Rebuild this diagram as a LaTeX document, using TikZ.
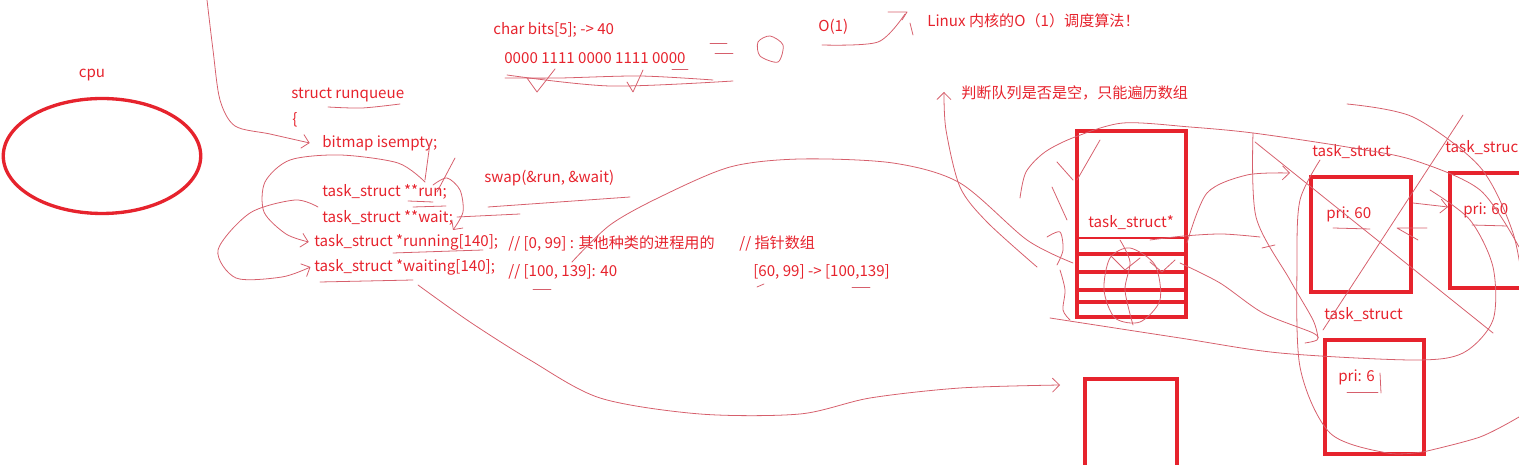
\documentclass[tikz,border=0pt]{standalone}
\usepackage{fontspec}
\setmainfont{Noto Sans CJK SC}
\usetikzlibrary{arrows.meta,shapes.geometric}
\definecolor{inkred}{RGB}{230,35,45}
\definecolor{penred}{RGB}{214,95,108}
\tikzset{
  txt/.style={anchor=west, inner sep=0pt, text=inkred, font=\fontsize{8.6}{10}\selectfont},
  pen/.style={draw=penred, line width=0.45pt, line cap=round, line join=round},
  penarrow/.style={pen, -{Straight Barb[length=4pt,width=8pt]}},
  thickbox/.style={draw=inkred, line width=2.2pt, inner sep=0pt, anchor=north west},
  barline/.style={draw=inkred, line width=2.2pt},
}
\begin{document}
\begin{tikzpicture}[x=0.02cm,y=-0.02cm]
\useasboundingbox (0,0) rectangle (1519,465);
\clip (0,0) rectangle (1519,465);

% cpu
\node[draw=inkred, line width=1.9pt, ellipse, minimum width=3.95cm, minimum height=2.3cm] (cpu) at (102,156) {};
\node[txt, anchor=center] (cpulbl) at (92,75) {cpu};

% struct runqueue
\node[txt] (rq) at (291,95) {struct runqueue};
\node[txt] (brace) at (292,120) {\{};
\node[txt] (isempty) at (322,143) {bitmap isempty;};
\node[txt] (run) at (322,192) {task\_struct **run;};
\node[txt] (wait) at (322,218) {task\_struct **wait;};
\node[txt] (running) at (314,242) {task\_struct *running[140];};
\node[txt] (waiting) at (314,267) {task\_struct *waiting[140];};
\node[txt] (swap) at (484,178) {swap(\&run, \&wait)};
\node[txt] (cmt1) at (508,244) {// [0, 99] : 其他种类的进程用的};
\node[txt] (cmtptr) at (739,244) {// 指针数组};
\node[txt] (cmt2) at (508,272) {// [100, 139]: 40};
\node[txt] (range) at (753,272) {[60, 99] -> [100,139]};

% bits
\node[txt] (bitsdecl) at (493,30) {char bits[5]; -> 40};
\node[txt] (bits) at (504,58) {0000 1111 0000 1111 0000};
\node[txt] (o1) at (818,27) {O(1)};
\node[txt] (linux) at (927,21) {Linux 内核的O（1）调度算法！};
\node[txt] (judge) at (961,93) {判断队列是否是空，只能遍历数组};

% arrays and task_structs
\node[thickbox, minimum width=2.18cm, minimum height=3.72cm] (arr) at (1075,129) {};
\draw[inkred, line width=1.4pt] (1075,238) -- (1184,238);
\foreach \yy in {254,272,290,302}
  \draw[barline] (1075,\yy) -- (1184,\yy);
\node[txt] (arrlbl) at (1088,223) {task\_struct*};
\node[thickbox, minimum width=1.84cm, minimum height=2.3cm] (wq) at (1083,377) {};

\node[thickbox, minimum width=2.0cm, minimum height=2.3cm] (t1) at (1309,175) {};
\node[thickbox, minimum width=2.0cm, minimum height=2.3cm] (t2) at (1448,171) {};
\node[thickbox, minimum width=1.98cm, minimum height=2.28cm] (t3) at (1323,338) {};
\node[txt] (t1name) at (1312,152) {task\_struct};
\node[txt] (t2name) at (1445,148) {task\_struc};
\node[txt] (t3name) at (1324,315) {task\_struct};
\node[txt] (t1pri) at (1326,214) {pri: 60};
\node[txt] (t2pri) at (1463,210) {pri: 60};
\node[txt] (t3pri) at (1338,377) {pri: 6};

% pen strokes, left
\draw[penarrow] plot[smooth] coordinates {(207,0) (213,50) (220,100) (235,126) (270,134) ([xshift=-7pt]isempty.west)};
\draw[pen] plot[smooth] coordinates {(328,107) (362,108) (400,104)};
\draw[pen] (430,143) -- (425,180);
\draw[penarrow] plot[smooth] coordinates {(425,182) (398,163) (340,155) (290,160) (265,182) (264,212) (286,234) ([xshift=-3pt]running.west)};
\draw[penarrow] plot[smooth] coordinates {(318,207) (295,200) (250,213) (218,250) (236,278) (282,277) ([xshift=-2pt]waiting.west)};
\draw[penarrow] plot[smooth] coordinates {(433,185) (447,178) (460,190) (463,212) (453,230)};
\draw[pen] (437,192) -- (455,158);
\draw[pen] (408,201) -- (433,202);
\draw[pen] (413,207) -- (446,206);
\draw[pen] (457,217) -- (520,214);
\draw[pen] (488,207) -- (630,197);
\draw[pen] (393,253) -- (483,250);
\draw[pen] (320,282) -- (413,280);
\draw[pen] (533,289) -- (551,289);
\draw[pen] (757,287) -- (764,284);
\draw[pen] (852,287) -- (870,287);

% bits strokes
\draw[pen] plot[smooth] coordinates {(505,78) (560,78) (640,76) (713,80)};
\draw[pen] plot[smooth] coordinates {(507,75) (610,86) (733,81)};
\draw[pen] (527,78) -- (537,92) -- (555,69);
\draw[pen] (627,82) -- (633,92) -- (643,70);
\draw[pen] (672,69) -- (688,69);
\draw[pen] (710,43) -- (727,43);
\draw[pen] (715,53) -- (733,53);
\draw[pen] plot[smooth cycle] coordinates {(758,42) (770,36) (783,45) (778,62) (760,56)};
\draw[pen] plot[smooth] coordinates {(822,45) (878,42) (905,14)};
\draw[pen] (888,12) -- (907,12) -- (902,20);
\draw[pen] (910,23) -- (913,35);

% long curves
\draw[pen] plot[smooth] coordinates {(572,262) (610,225) (660,197) (730,167) (800,159) (893,163) (960,183) (1027,240) (1073,263)};
\coordinate (wend) at (1060,385);
\draw[penarrow] plot[smooth] coordinates {(418,285) (470,322) (530,360) (600,398) (700,414) (800,414) (870,398) (960,388) (wend)};
\draw[penarrow] plot[smooth] coordinates {(1037,267) (987,222) (960,187) (946,130) (944,92)};

% pen strokes, right
\draw[pen] plot[smooth] coordinates {(1020,198) (1026,172) (1045,152) (1075,137) (1123,123) (1190,127) (1253,133) (1347,147) (1413,160) (1480,190) (1519,247)};
\draw[pen] plot[smooth] coordinates {(1347,104) (1413,117) (1480,167) (1513,233) (1525,300)};
\draw[pen] (1463,115) -- (1323,330);
\draw[pen] (1255,142) -- (1493,333);
\draw[pen] plot[smooth] coordinates {(1253,133) (1256,217) (1290,280) (1313,320) (1318,338)};
\coordinate (t1in) at (1290,173);
\draw[penarrow] plot[smooth] coordinates {(1187,243) (1207,193) (1247,175) (t1in)};
\draw[pen] plot[smooth] coordinates {(1150,240) (1184,236) (1222,234) (1260,237)};
\draw[pen] (1262,248) -- (1275,245);
\draw[pen] plot[smooth] coordinates {(1180,263) (1220,283) (1263,313) (1313,333) (1317,340) (1305,343)};
\draw[pen] plot[smooth] coordinates {(1320,160) (1300,200) (1297,260) (1300,367) (1330,433) (1387,453) (1422,452)};
\draw[pen] plot[smooth] coordinates {(1423,452) (1480,437) (1519,417)};
\draw[pen] plot[smooth] coordinates {(1050,318) (1180,338) (1280,353) (1413,360) (1463,353) (1493,320) (1493,267) (1470,220) (1430,190)};
\draw[penarrow] (1413,203) -- (t2.west |- 0,207);
\draw[pen] (1427,228) -- (1397,228) -- (1418,240);
\draw[pen] (1333,228) -- (1370,229);
\draw[pen] (1472,225) -- (1507,226);
\draw[pen] (1347,392) -- (1378,392);
\draw[pen] (1380,373) -- (1381,393);
\draw[pen] plot[smooth cycle] coordinates {(1130,248) (1155,265) (1160,300) (1140,322) (1115,318) (1104,290) (1110,258)};
\draw[pen] (1057,162) -- (1073,180);
\draw[pen] (1052,187) -- (1067,220);
\draw[pen] (1100,140) -- (1077,180);
\draw[pen] plot[smooth] coordinates {(1047,237) (1060,232) (1063,250) (1057,265)};
\draw[pen] plot[smooth] coordinates {(1060,270) (1065,290) (1063,310) (1070,320)};
\draw[pen] plot[smooth] coordinates {(1120,240) (1130,262) (1125,290) (1133,325)};
\draw[pen] (1110,255) -- (1125,270) -- (1140,258);
\draw[pen] (1150,262) -- (1162,272) -- (1175,260);
\end{tikzpicture}
\end{document}
